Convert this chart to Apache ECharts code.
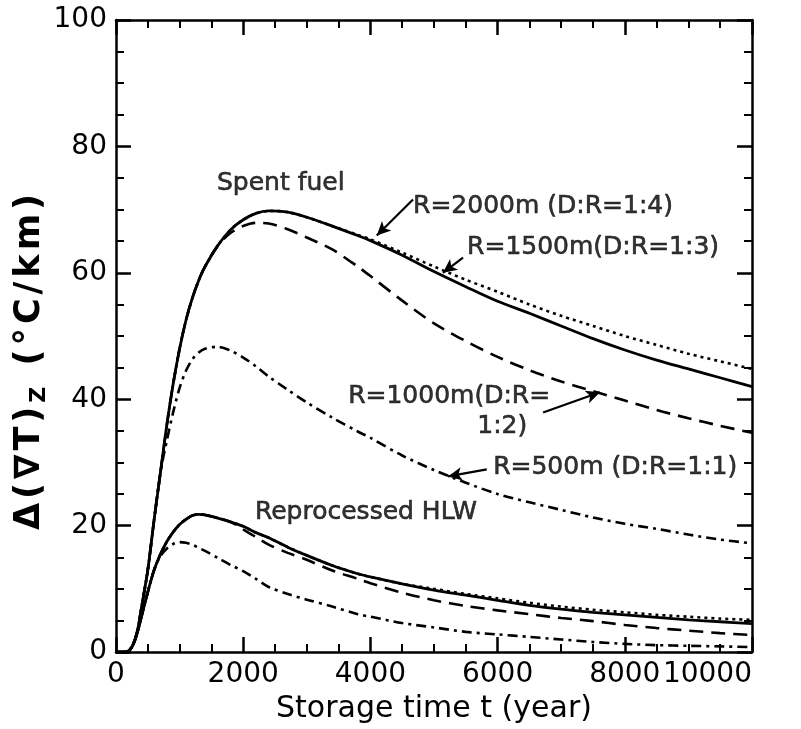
<!DOCTYPE html>
<html>
<head>
<meta charset="utf-8">
<script src="https://cdn.jsdelivr.net/npm/echarts@6/dist/echarts.min.js"></script>
<style>
html,body{margin:0;padding:0;background:#fff;}
#c{width:801px;height:729px;}
</style>
</head>
<body>
<div id="c"></div>
<script>
// storage time grid (years)
const timeT = [0,150,200,250,300,350,400,500,600,700,800,900,1000,1100,1200,1300,1400,1600,1800,2000,2200,2400,2700,3000,3400,3800,4000,4500,5000,5500,6000,6500,7000,7500,8000,8500,9000,9500,10000];

// Spent fuel
const sfR1500 = [0,0,0.2,0.8,2,4,7,13,21,28.5,36,42.5,48,52.5,56,58.8,61,64.3,66.8,68.4,69.4,69.8,69.6,68.8,67.4,65.9,65.1,62.8,60.2,57.8,55.5,53.6,51.6,49.6,47.8,46.2,44.8,43.4,42.0];
const sfR2000 = [0,0,0.2,0.8,2,4,7,13,21,28.5,36,42.5,48,52.5,56,58.8,61,64.3,66.8,68.4,69.4,69.8,69.6,68.8,67.4,66.0,65.3,63.2,61.0,58.9,57.0,55.0,53.2,51.6,50.0,48.6,47.2,46.0,44.8];
const sfR1000 = [0,0,0.2,0.8,2,4,7,13,21,28.5,36,42.5,48,52.5,56,58.8,61,64.3,66.3,67.4,67.9,67.8,66.9,65.6,63.7,61.0,59.5,55.6,52.0,49.2,46.7,44.6,42.8,41.3,39.8,38.3,37.0,35.8,34.7];
const sfR500  = [0,0,0.2,0.8,2,4,7,13,21,28.5,33.5,38,41.8,44.5,46.3,47.4,48.0,48.3,47.7,46.6,45.2,43.6,41.5,39.5,37.1,34.9,33.9,31.1,28.8,26.8,25.0,23.7,22.5,21.3,20.3,19.5,18.6,17.8,17.2];

// Reprocessed HLW
const hlwR1500 = [0,0,0.2,0.8,2,3.6,5.6,9.5,13,15.5,17.5,19,20.2,21,21.6,21.8,21.7,21.2,20.6,19.9,18.9,18.1,16.6,15.3,13.7,12.4,11.9,10.8,9.8,9.0,8.2,7.4,6.8,6.3,5.9,5.5,5.1,4.8,4.5];
const hlwR2000 = [0,0,0.2,0.8,2,3.6,5.6,9.5,13,15.5,17.5,19,20.2,21,21.6,21.8,21.7,21.2,20.6,19.9,18.9,18.1,16.6,15.3,13.7,12.4,11.9,10.8,10.0,9.2,8.5,7.8,7.2,6.7,6.3,5.9,5.6,5.3,5.1];
const hlwR1000 = [0,0,0.2,0.8,2,3.6,5.6,9.5,13,15.5,17.5,19,20.2,21,21.6,21.8,21.7,21.2,20.6,19.4,18.2,17.0,15.7,14.6,12.9,11.6,10.9,9.4,8.2,7.3,6.6,6.0,5.4,4.9,4.3,3.8,3.4,3.0,2.7];
const hlwR500  = [0,0,0.2,0.8,2,3.6,5.6,9.5,13,15.2,16.4,17.1,17.4,17.3,17.0,16.5,16.0,14.9,13.8,12.8,11.6,10.3,9.2,8.3,7.2,6.0,5.6,4.6,3.9,3.2,2.8,2.4,2.0,1.6,1.3,1.1,1.0,0.9,0.8];

// axis ticks
const xTicks = [0,2000,4000,6000,8000,10000];
const yTicks = [0,20,40,60,80,100];

const INK = '#000';
const FONT = 'DejaVu Sans';
const pair = v => timeT.map((t,i)=>[t,v[i]]);

const styles = {
  solid: {type:'solid', width:2.8},
  dotted: {type:[3,4], width:2.6},
  dashed: {type:[14,8], width:2.6},
  dashdot: {type:[10,5,3,5], width:2.6}
};
function line(name, vals, st){
  return {name, type:'line', data:pair(vals), showSymbol:false, symbol:'none', smooth:0.3,
    lineStyle:Object.assign({color:INK}, styles[st]), z:3, silent:true};
}

const notes = [
  {t:1588, v:74.2, text:'Spent fuel'},
  {t:4670, v:70.5, text:'R=2000m (D:R=1:4)'},
  {t:5520, v:64.0, text:'R=1500m(D:R=1:3)'},
  {t:3650, v:40.4, text:'R=1000m(D:R='},
  {t:5680, v:35.7, text:'1:2)'},
  {t:5930, v:29.2, text:'R=500m (D:R=1:1)'},
  {t:2185, v:22.1, text:'Reprocessed HLW'}
];
const arrows = [
  [[4670,71.6],[4100,65.9]],
  [[5456,62.4],[5140,60.0]],
  [[6715,37.9],[7610,41.1]],
  [[5830,28.9],[5220,27.8]]
];

function axisCommon(){
  return {
    type:'value',
    axisLine:{show:true, onZero:false, lineStyle:{color:INK, width:2.5}},
    axisTick:{show:true, inside:true, length:15, lineStyle:{color:INK, width:2.5}},
    minorTick:{show:true, splitNumber:4, length:8, lineStyle:{color:INK, width:2}},
    splitLine:{show:false},
    minorSplitLine:{show:false}
  };
}

const yNameChars = ['Δ','(','∇','T',')','Z',' ','(','°','C','/','k','m',')'];
const yNameRich = yNameChars.map(c => c==='Z' ? '{s|Z}' : '{a|'+c+'}').join('');

const chart = echarts.init(document.getElementById('c'), null, {renderer:'canvas'});
chart.setOption({
  animation:false,
  backgroundColor:'#fff',
  grid:{left:116, right:49, top:20, bottom:76},
  xAxis:[
    Object.assign(axisCommon(), {min:xTicks[0], max:xTicks[xTicks.length-1], interval:2000, position:'bottom',
      axisLabel:{color:INK, fontSize:28, fontFamily:FONT, margin:9, alignMaxLabel:'right', formatter:v=>String(v)},
      name:'Storage time t (year)', nameLocation:'middle', nameGap:40,
      nameTextStyle:{color:INK, fontSize:30, fontFamily:FONT}}),
    Object.assign(axisCommon(), {min:xTicks[0], max:xTicks[xTicks.length-1], interval:2000, position:'top',
      axisLabel:{show:false}})
  ],
  yAxis:[
    Object.assign(axisCommon(), {min:yTicks[0], max:yTicks[yTicks.length-1], interval:20, position:'left',
      axisLabel:{color:INK, fontSize:28, fontFamily:FONT, margin:9}}),
    Object.assign(axisCommon(), {min:yTicks[0], max:yTicks[yTicks.length-1], interval:20, position:'right',
      axisLabel:{show:false}})
  ],
  graphic:[{
    type:'text', x:30, y:362, rotation:Math.PI/2,
    style:{
      text:yNameRich,
      align:'center', verticalAlign:'middle',
      rich:{
        a:{fontSize:35, fontFamily:FONT, fill:INK, fontWeight:'bold', lineHeight:38, padding:[0,2,0,2]},
        s:{fontSize:22, fontFamily:FONT, fill:INK, fontWeight:'bold', lineHeight:38, padding:[18,3,0,2]}
      }
    }
  }],
  series:[
    line('SF R=1500m', sfR1500, 'solid'),
    line('SF R=2000m', sfR2000, 'dotted'),
    line('SF R=1000m', sfR1000, 'dashed'),
    line('SF R=500m', sfR500, 'dashdot'),
    line('HLW R=1500m', hlwR1500, 'solid'),
    line('HLW R=2000m', hlwR2000, 'dotted'),
    line('HLW R=1000m', hlwR1000, 'dashed'),
    line('HLW R=500m', hlwR500, 'dashdot'),
    {
      name:'notes', type:'scatter', symbolSize:0, silent:true, z:5,
      data:notes.map(n=>({value:[n.t,n.v], label:{show:true, formatter:n.text}})),
      label:{show:true, position:'right', distance:0, color:INK, fontSize:25, fontFamily:FONT,
        textBorderColor:INK, textBorderWidth:0.6},
      markLine:{
        silent:true, symbol:['none','arrow'], symbolSize:[10,14],
        label:{show:false},
        lineStyle:{color:INK, width:2.2, type:'solid'},
        data:arrows.map(a=>[{coord:a[0]},{coord:a[1]}])
      }
    }
  ]
});
</script>
</body>
</html>
